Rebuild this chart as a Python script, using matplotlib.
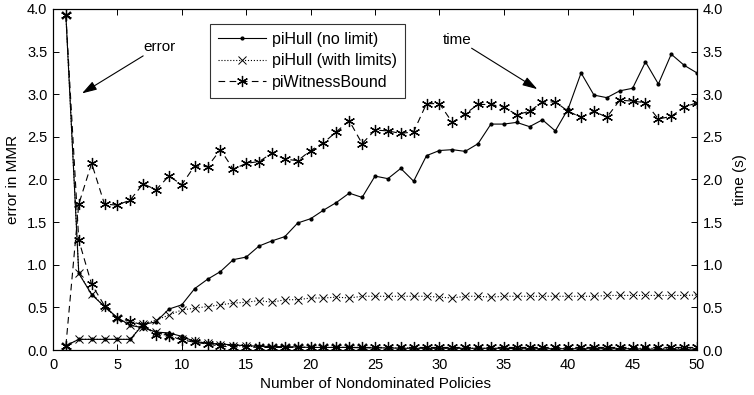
import matplotlib
matplotlib.use("Agg")
import matplotlib.pyplot as plt
import numpy as np

plt.rcParams['font.family'] = ['Liberation Sans', 'DejaVu Sans']

x = list(range(1, 51))

# error in MMR (left axis)
err_nolimit = [3.93, 0.90, 0.65, 0.51, 0.38, 0.29, 0.26, 0.21, 0.20, 0.16,
               0.10, 0.08, 0.07, 0.06, 0.05, 0.045, 0.04, 0.04, 0.035, 0.03,
               0.03, 0.03, 0.03, 0.025, 0.025, 0.025, 0.02, 0.02, 0.02, 0.02,
               0.02, 0.02, 0.02, 0.02, 0.02, 0.015, 0.015, 0.015, 0.015, 0.015,
               0.015, 0.015, 0.015, 0.015, 0.015, 0.01, 0.01, 0.01, 0.01, 0.01]
err_limits = [3.93, 0.90, 0.66, 0.51, 0.37, 0.29, 0.27, 0.21, 0.16, 0.13,
              0.10, 0.08, 0.06, 0.05, 0.045, 0.04, 0.04, 0.035, 0.035, 0.03,
              0.03, 0.03, 0.03, 0.03, 0.025, 0.025, 0.025, 0.025, 0.02, 0.02,
              0.02, 0.02, 0.02, 0.02, 0.02, 0.02, 0.02, 0.02, 0.02, 0.02,
              0.02, 0.02, 0.02, 0.02, 0.02, 0.02, 0.02, 0.02, 0.02, 0.02]
err_witness = [3.93, 1.29, 0.77, 0.52, 0.37, 0.34, 0.29, 0.18, 0.16, 0.12,
               0.09, 0.07, 0.045, 0.035, 0.035, 0.03, 0.03, 0.03, 0.03, 0.03,
               0.03, 0.03, 0.03, 0.03, 0.03, 0.03, 0.03, 0.03, 0.03, 0.03,
               0.03, 0.03, 0.03, 0.03, 0.03, 0.03, 0.03, 0.03, 0.03, 0.03,
               0.03, 0.03, 0.03, 0.03, 0.03, 0.03, 0.03, 0.03, 0.03, 0.03]

# time in seconds (right axis)
time_nolimit = [0.05, 0.125, 0.125, 0.125, 0.125, 0.125, 0.30, 0.33, 0.48, 0.53,
                0.72, 0.83, 0.92, 1.06, 1.09, 1.22, 1.28, 1.33, 1.49, 1.54,
                1.64, 1.73, 1.84, 1.79, 2.04, 2.01, 2.13, 1.98, 2.28, 2.34,
                2.35, 2.33, 2.42, 2.65, 2.65, 2.67, 2.62, 2.70, 2.57, 2.83,
                3.25, 2.99, 2.96, 3.04, 3.07, 3.38, 3.12, 3.47, 3.34, 3.25]
time_limits = [0.05, 0.125, 0.125, 0.125, 0.125, 0.125, 0.31, 0.35, 0.41, 0.47,
               0.49, 0.51, 0.53, 0.55, 0.56, 0.58, 0.56, 0.59, 0.59, 0.61,
               0.61, 0.62, 0.61, 0.63, 0.63, 0.63, 0.63, 0.63, 0.63, 0.62,
               0.61, 0.63, 0.63, 0.62, 0.63, 0.63, 0.63, 0.63, 0.63, 0.63,
               0.63, 0.63, 0.64, 0.64, 0.64, 0.64, 0.64, 0.64, 0.64, 0.645]
time_witness = [0.05, 1.71, 2.19, 1.71, 1.70, 1.76, 1.95, 1.88, 2.04, 1.94,
                2.16, 2.15, 2.35, 2.12, 2.19, 2.21, 2.31, 2.24, 2.22, 2.34,
                2.43, 2.56, 2.69, 2.42, 2.58, 2.57, 2.54, 2.56, 2.89, 2.89,
                2.67, 2.77, 2.88, 2.88, 2.85, 2.76, 2.80, 2.91, 2.91, 2.80,
                2.73, 2.80, 2.73, 2.93, 2.92, 2.90, 2.71, 2.74, 2.85, 2.90]

labels = ['piHull (no limit)', 'piHull (with limits)', 'piWitnessBound']

fig = plt.figure(figsize=(7.54, 3.95), dpi=100)
ax = fig.add_axes([53/754, 1 - 350/395, (697 - 53)/754, (350 - 9)/395])
ax2 = ax.twinx()

lw = 0.8
star = (6, 2, 0)
sty = [dict(color='black', linestyle='-', marker='.', markersize=4, linewidth=lw),
       dict(color='black', linestyle=':', marker='x', markersize=6, linewidth=lw, markeredgewidth=0.7),
       dict(color='black', linestyle=(0, (6, 4)), marker=star, markersize=8, linewidth=lw, markeredgewidth=0.9)]

h = []
for e, s in zip([err_nolimit, err_limits, err_witness], sty):
    line, = ax.plot(x, e, **s)
    h.append(line)
for t, s in zip([time_nolimit, time_limits, time_witness], sty):
    ax2.plot(x, t, **s)

for a in (ax, ax2):
    a.set_xlim(0, 50)
    a.set_ylim(0, 4)
    a.set_yticks(np.arange(0, 4.01, 0.5))
    a.set_yticklabels([f'{v:.1f}' for v in np.arange(0, 4.01, 0.5)])
    a.tick_params(direction='in', labelsize=10.5, length=4, width=0.7, pad=4)
    for sp in a.spines.values():
        sp.set_linewidth(0.8)
ax.set_xticks(range(0, 51, 5))
ax.tick_params(axis='x', top=True, pad=6)
ax2.tick_params(axis='y', right=True, left=False)

ax.set_xlabel('Number of Nondominated Policies', fontsize=11, labelpad=3)
ax.set_ylabel('error in MMR', fontsize=11, labelpad=5)
ax2.set_ylabel('time (s)', fontsize=11, labelpad=7)

leg = ax.legend(h, labels, loc='upper left', bbox_to_anchor=((210 - 53)/644, 1 - 15/341),
                fontsize=11.5, frameon=True, fancybox=False, edgecolor='black',
                handlelength=3.0, borderpad=0.5, labelspacing=0.4, handletextpad=0.4,
                borderaxespad=0)
leg.get_frame().set_linewidth(0.8)
leg.set_zorder(5)

arrow = dict(arrowstyle='-|>,head_length=0.9,head_width=0.28',
             color='black', lw=0.8, shrinkA=0, shrinkB=0)
ax.text(8.3, 3.56, 'error', fontsize=11, ha='center', va='center')
ax.annotate('', xy=(2.25, 3.01), xytext=(7.0, 3.45), arrowprops=arrow)
ax.text(31.4, 3.64, 'time', fontsize=11, ha='center', va='center')
ax.annotate('', xy=(37.6, 3.06), xytext=(32.5, 3.54), arrowprops=arrow)

fig.savefig('out.png', dpi=100)
